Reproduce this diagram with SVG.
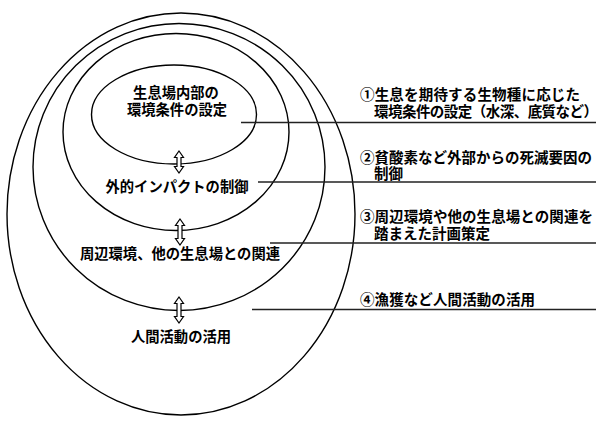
<svg xmlns="http://www.w3.org/2000/svg" width="603" height="421" viewBox="0 0 603 421">
<style>
.ring{fill:none;stroke:#000;stroke-width:1.4}
.lead{stroke:#222;stroke-width:1.3}
.arrow{fill:#fff;stroke:#000;stroke-width:1.2;stroke-linejoin:miter}
.lbl{font-family:"Noto Sans CJK JP","Noto Sans",sans-serif;font-size:14.3px;font-weight:bold;fill:#000;text-anchor:middle}
.note{font-family:"Noto Sans CJK JP","Noto Sans",sans-serif;font-size:14.5px;font-weight:bold;fill:#000}
</style>
<rect width="603" height="421" fill="#fff"/>
<g id="ring4"><ellipse class="ring" cx="181" cy="214" rx="174" ry="201"/><text class="lbl" x="181" y="342">人間活動の活用</text></g>
<g id="ring3"><ellipse class="ring" cx="179" cy="167" rx="146" ry="143.5"/><text class="lbl" x="180" y="259">周辺環境、他の生息場との関連</text></g>
<g id="ring2"><ellipse class="ring" cx="176" cy="132" rx="113" ry="98.5"/><text class="lbl" x="177" y="192">外的インパクトの制御</text></g>
<g id="ring1"><ellipse class="ring" cx="174" cy="114.5" rx="82.5" ry="49.5"/><text class="lbl" x="176" y="98">生息場内部の</text><text class="lbl" x="177" y="115">環境条件の設定</text></g>
<g id="connectors">
<path class="arrow" d="M179,151 L183.5,157.5 L181,157.5 L181,166.5 L183.5,166.5 L179,173 L174.5,166.5 L177,166.5 L177,157.5 L174.5,157.5 Z"/>
<path class="arrow" d="M180,219 L184.5,225.5 L182,225.5 L182,238.5 L184.5,238.5 L180,245 L175.5,238.5 L178,238.5 L178,225.5 L175.5,225.5 Z"/>
<path class="arrow" d="M179,297 L183.5,303.5 L181,303.5 L181,316.5 L183.5,316.5 L179,323 L174.5,316.5 L177,316.5 L177,303.5 L174.5,303.5 Z"/>
<line class="lead" x1="241" y1="122.5" x2="596" y2="122.5"/>
<line class="lead" x1="258" y1="182" x2="596" y2="182"/>
<line class="lead" x1="270" y1="243" x2="596" y2="243"/>
<line class="lead" x1="252" y1="309.5" x2="596" y2="309.5"/>
</g>
<g id="note1"><text class="note" x="360" y="100" textLength="220" lengthAdjust="spacing">①生息を期待する生物種に応じた</text><text class="note" x="374" y="116.5" textLength="224" lengthAdjust="spacing">環境条件の設定（水深、底質など）</text></g>
<g id="note2"><text class="note" x="360" y="162.5" textLength="232" lengthAdjust="spacing">②貧酸素など外部からの死滅要因の</text><text class="note" x="374" y="179">制御</text></g>
<g id="note3"><text class="note" x="360" y="222" textLength="233" lengthAdjust="spacing">③周辺環境や他の生息場との関連を</text><text class="note" x="374" y="238.5">踏まえた計画策定</text></g>
<g id="note4"><text class="note" x="360" y="304.5" textLength="175" lengthAdjust="spacing">④漁獲など人間活動の活用</text></g>
</svg>
